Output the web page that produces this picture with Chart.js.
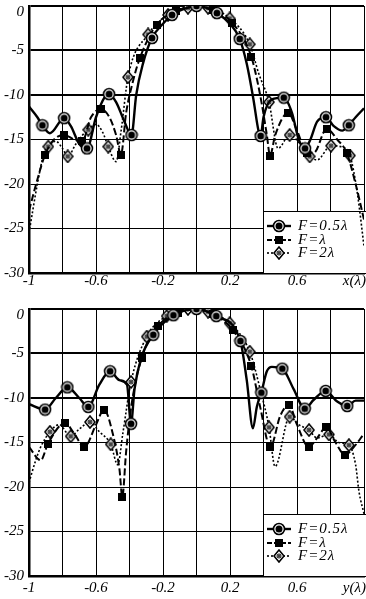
<!DOCTYPE html>
<html>
<head>
<meta charset="utf-8">
<script src="https://cdn.jsdelivr.net/npm/chart.js@4/dist/chart.umd.min.js"></script>
<style>
  html, body { margin: 0; padding: 0; background: #fff; }
  canvas { display: block; }
</style>
</head>
<body>
<canvas id="topChart" width="366" height="300"></canvas>
<canvas id="bottomChart" width="366" height="299"></canvas>
<script>
// axis ticks and labels
const xLabelVals = [-1, -0.6, -0.2, 0.2, 0.6];
const xLabelText = ['-1', '-0.6', '-0.2', '0.2', '0.6'];
const yTickVals = [0, -5, -10, -15, -20, -25, -30];
const yTickText = ['0', '-5', '-10', '-15', '-20', '-25', '-30'];
const seriesNames = ['F=0.5λ', 'F=λ', 'F=2λ'];

// upper plot, x(λ)
const top05x = [-1, -0.95, -0.92, -0.875, -0.79, -0.75, -0.7, -0.654, -0.6, -0.55, -0.522, -0.48, -0.43, -0.388, -0.36, -0.32, -0.266, -0.2, -0.146, -0.07, 0, 0.06, 0.122, 0.2, 0.258, 0.3, 0.34, 0.37, 0.383, 0.4, 0.45, 0.521, 0.57, 0.61, 0.648, 0.68, 0.72, 0.773, 0.82, 0.87, 0.909, 0.95, 1];
const top05y = [-11.3, -12.5, -13.4, -14.3, -12.6, -13.5, -15.5, -16, -12.5, -10.3, -9.9, -10.8, -13, -14.5, -10, -6.5, -3.6, -2, -1, -0.3, 0, -0.2, -0.8, -2, -3.7, -6.5, -10.5, -14, -14.6, -12.5, -10.5, -10.3, -12, -15, -16, -15, -13, -12.5, -13.5, -14, -13.4, -12.5, -11.5];
const top05marks = [-0.92, -0.79, -0.654, -0.522, -0.388, -0.266, -0.146, 0, 0.122, 0.258, 0.383, 0.521, 0.648, 0.773, 0.909];

const top1x = [-1, -0.95, -0.904, -0.85, -0.789, -0.73, -0.682, -0.63, -0.57, -0.52, -0.48, -0.451, -0.42, -0.38, -0.337, -0.238, -0.12, 0, 0.1, 0.214, 0.327, 0.38, 0.42, 0.439, 0.47, 0.548, 0.6, 0.662, 0.7, 0.777, 0.84, 0.897, 0.95, 1];
const top1y = [-23, -19.5, -16.7, -15, -14.5, -15, -15.2, -12.5, -11.6, -12.5, -14.5, -16.7, -12, -8.5, -5.8, -2.1, -0.6, 0, -0.5, -1.9, -5.7, -10, -14.5, -16.8, -14.5, -12, -14, -16.5, -16.5, -13.8, -15, -16.5, -20, -24];
const top1marks = [-0.904, -0.789, -0.682, -0.57, -0.451, -0.337, -0.238, -0.12, 0.1, 0.214, 0.327, 0.439, 0.548, 0.662, 0.777, 0.897];

const top2x = [-1, -0.95, -0.91, -0.885, -0.84, -0.8, -0.769, -0.72, -0.68, -0.646, -0.6, -0.56, -0.527, -0.48, -0.45, -0.409, -0.289, -0.17, -0.051, 0.069, 0.198, 0.318, 0.37, 0.433, 0.487, 0.556, 0.62, 0.676, 0.72, 0.803, 0.86, 0.916, 0.96, 1];
const top2y = [-25.5, -20, -16.5, -15.8, -15.2, -16, -16.9, -15.5, -14.5, -13.9, -13.3, -14.2, -15.8, -17.5, -14, -8, -3.2, -1, -0.2, -0.2, -1.4, -4.3, -7.5, -10.8, -16, -14.5, -15.5, -16.9, -17.3, -15.7, -15.8, -16.8, -21, -27];
const top2marks = [-0.885, -0.769, -0.646, -0.527, -0.409, -0.289, -0.17, -0.051, 0.069, 0.198, 0.318, 0.433, 0.556, 0.676, 0.803, 0.916];

// lower plot, y(λ)
const bot05x = [-1, -0.904, -0.84, -0.771, -0.7, -0.646, -0.58, -0.516, -0.46, -0.415, -0.391, -0.37, -0.33, -0.258, -0.138, 0, 0.118, 0.262, 0.3, 0.337, 0.36, 0.387, 0.42, 0.45, 0.512, 0.58, 0.646, 0.7, 0.771, 0.84, 0.9, 0.95, 1];
const bot05y = [-10.7, -11.3, -10, -8.8, -10, -11, -8.5, -7, -8, -8.5, -12.9, -9, -5.5, -2.9, -0.7, 0, -0.8, -3.6, -8, -13.4, -11, -9.4, -7, -6.5, -6.7, -9, -11.2, -10.2, -9.2, -10.4, -10.9, -10.3, -10.3];
const bot05marks = [-0.904, -0.771, -0.646, -0.516, -0.391, -0.258, -0.138, 0, 0.118, 0.262, 0.387, 0.512, 0.646, 0.771, 0.9];

const bot1x = [-1, -0.93, -0.888, -0.785, -0.73, -0.67, -0.6, -0.552, -0.5, -0.46, -0.443, -0.42, -0.39, -0.327, -0.228, -0.11, 0, 0.1, 0.218, 0.327, 0.38, 0.441, 0.5, 0.552, 0.6, 0.67, 0.72, 0.775, 0.83, 0.887, 0.94, 1];
const bot1y = [-15.5, -17, -15.2, -12.8, -14, -15.5, -13, -11.3, -14, -18, -21.1, -16, -11, -5.5, -1.9, -0.4, 0, -0.6, -2.4, -6.4, -11, -15.5, -12, -10.8, -13, -15.5, -14.5, -13.3, -15, -16.4, -15.5, -14];
const bot1marks = [-0.888, -0.785, -0.67, -0.552, -0.443, -0.327, -0.228, -0.11, 0.1, 0.218, 0.327, 0.441, 0.552, 0.67, 0.775, 0.887];

const bot2x = [-1, -0.96, -0.93, -0.875, -0.82, -0.751, -0.7, -0.636, -0.58, -0.512, -0.47, -0.44, -0.391, -0.297, -0.178, -0.051, 0.069, 0.198, 0.318, 0.38, 0.433, 0.469, 0.556, 0.61, 0.672, 0.72, 0.791, 0.85, 0.91, 0.95, 0.97, 1];
const bot2y = [-19.5, -17, -15.5, -13.8, -13, -14.3, -13.5, -12.7, -13.8, -15.2, -17.5, -14, -8.2, -3.1, -0.8, 0, -0.3, -1.6, -4.8, -9, -13.3, -17.7, -12.1, -13, -13.6, -14.5, -14.1, -15, -15.3, -17.5, -20.5, -23];
const bot2marks = [-0.875, -0.751, -0.636, -0.512, -0.391, -0.297, -0.178, -0.051, 0.069, 0.198, 0.318, 0.433, 0.556, 0.672, 0.791, 0.91];

const FONT = 'italic 15px "Liberation Serif", "Times New Roman", serif';

// marker pictures
function circleMark() {
  const c = document.createElement('canvas');
  c.width = 14; c.height = 14;
  const g = c.getContext('2d');
  g.fillStyle = '#fff';
  g.strokeStyle = '#000';
  g.lineWidth = 1.6;
  g.beginPath(); g.arc(7, 7, 5.5, 0, Math.PI * 2); g.fill(); g.stroke();
  g.fillStyle = '#000';
  g.beginPath(); g.arc(7, 7, 3.5, 0, Math.PI * 2); g.fill();
  return c;
}
function squareMark() {
  const c = document.createElement('canvas');
  c.width = 8; c.height = 8;
  const g = c.getContext('2d');
  g.fillStyle = '#000';
  g.fillRect(0, 0, 8, 8);
  return c;
}
function diamondMark() {
  const c = document.createElement('canvas');
  c.width = 12; c.height = 14;
  const g = c.getContext('2d');
  g.fillStyle = '#fff';
  g.strokeStyle = '#000';
  g.lineWidth = 1.6;
  g.beginPath();
  g.moveTo(6, 1); g.lineTo(11, 7); g.lineTo(6, 13); g.lineTo(1, 7); g.closePath();
  g.fill(); g.stroke();
  g.lineWidth = 1;
  g.beginPath(); g.arc(6, 7, 2, 0, Math.PI * 2); g.stroke();
  g.fillStyle = '#000';
  g.beginPath(); g.arc(6, 7, 1, 0, Math.PI * 2); g.fill();
  return c;
}

const styles = [
  { width: 2.4, dash: [], marker: circleMark() },
  { width: 2, dash: [7, 3], marker: squareMark() },
  { width: 1.6, dash: [2, 2], marker: diamondMark() }
];

function makeSet(xs, ys, marks, st) {
  return {
    data: xs.map((x, i) => ({ x: x, y: ys[i] })),
    borderColor: '#000',
    borderWidth: st.width,
    borderDash: st.dash,
    cubicInterpolationMode: 'monotone',
    fill: false,
    pointStyle: st.marker,
    pointRadius: c => (c.raw && marks.includes(c.raw.x)) ? 5 : 0
  };
}

// tick labels and legend drawn with the scales
const decorPlugin = {
  id: 'decor',
  beforeDatasetsDraw(chart) {
    const a = chart.chartArea, ctx = chart.ctx;
    const boxTop = a.bottom - 62;
    ctx.save();
    ctx.fillStyle = '#fff';
    ctx.fillRect(263, boxTop, chart.width - 263, a.bottom - boxTop);
    ctx.strokeStyle = '#000';
    ctx.lineWidth = 1;
    ctx.strokeRect(263.5, boxTop + 0.5, chart.width, a.bottom - boxTop);
    ctx.restore();
  },
  afterDraw(chart, args, opts) {
    const a = chart.chartArea, ctx = chart.ctx;
    const xs = chart.scales.x, ys = chart.scales.y;
    ctx.save();
    ctx.fillStyle = '#000';
    ctx.font = FONT;
    ctx.textBaseline = 'middle';
    ctx.textAlign = 'right';
    yTickVals.forEach((v, i) => {
      const py = Math.max(ys.getPixelForValue(v), a.top + 6);
      ctx.fillText(yTickText[i], 24, py);
    });
    ctx.textAlign = 'center';
    const ly = a.bottom + opts.labelGap;
    xLabelVals.forEach((v, i) => {
      ctx.fillText(xLabelText[i], xs.getPixelForValue(v), ly);
    });
    ctx.textAlign = 'right';
    ctx.fillText(opts.axisName, chart.width, ly);

    // legend entries
    const rows = [a.bottom - 47, a.bottom - 33, a.bottom - 20];
    ctx.letterSpacing = '1px';
    rows.forEach((ry, i) => {
      const st = styles[i];
      ctx.save();
      ctx.strokeStyle = '#000';
      ctx.lineWidth = st.width;
      ctx.setLineDash(i === 1 ? [5, 2] : st.dash);
      ctx.beginPath(); ctx.moveTo(267, ry); ctx.lineTo(291, ry); ctx.stroke();
      ctx.restore();
      const m = st.marker;
      ctx.drawImage(m, 279 - m.width / 2, ry - m.height / 2);
      ctx.textAlign = 'left';
      ctx.fillText(seriesNames[i], 298, ry);
    });
    ctx.restore();
  }
};

function makeChart(id, sets, topPad, xHeight, labelGap, axisName) {
  return new Chart(document.getElementById(id), {
    type: 'line',
    data: { datasets: sets },
    plugins: [decorPlugin],
    options: {
      responsive: false,
      animation: false,
      events: [],
      layout: { padding: { top: topPad, right: 2, left: 0, bottom: 0 } },
      plugins: {
        legend: { display: false },
        tooltip: { enabled: false },
        decor: { labelGap: labelGap, axisName: axisName }
      },
      scales: {
        x: {
          type: 'linear', min: -1, max: 1,
          ticks: { stepSize: 0.2, display: false },
          grid: { color: '#000', lineWidth: 1, drawTicks: false },
          border: { color: '#000', width: 2.5 },
          afterFit: s => { s.height = xHeight; }
        },
        y: {
          min: -30, max: 0,
          ticks: { stepSize: 5, display: false },
          grid: {
            color: '#000', drawTicks: false,
            lineWidth: c => [0, -5, -10].includes(c.tick.value) ? 2 : 1
          },
          border: { color: '#000', width: 2.5 },
          afterFit: s => { s.width = 29; }
        }
      }
    }
  });
}

makeChart('topChart', [
  makeSet(top05x, top05y, top05marks, styles[0]),
  makeSet(top1x, top1y, top1marks, styles[1]),
  makeSet(top2x, top2y, top2marks, styles[2])
], 6, 27, 8, 'x(λ)');

makeChart('bottomChart', [
  makeSet(bot05x, bot05y, bot05marks, styles[0]),
  makeSet(bot1x, bot1y, bot1marks, styles[1]),
  makeSet(bot2x, bot2y, bot2marks, styles[2])
], 9, 23, 12, 'y(λ)');
</script>
</body>
</html>
